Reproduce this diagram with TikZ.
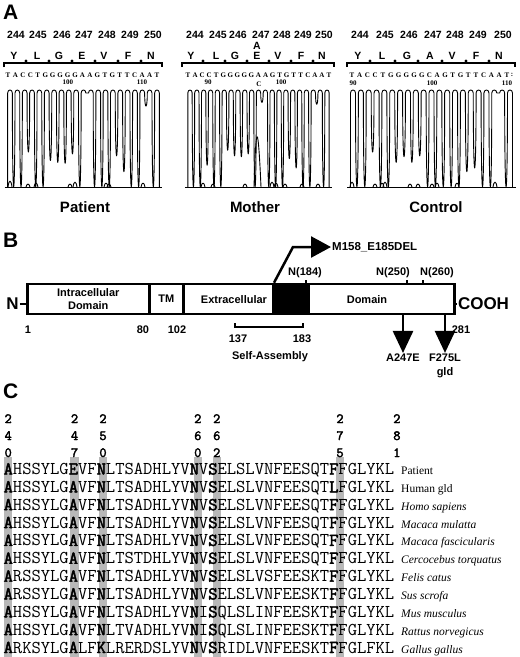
\documentclass[tikz,border=0pt]{standalone}
\usepackage{fontspec}
\setmainfont{Liberation Sans}
\setmonofont{Latin Modern Mono}[BoldFont=Latin Modern Mono,BoldFeatures={FakeBold=2.5}]
\newfontfamily\timesfont{Liberation Serif}
\usetikzlibrary{arrows.meta,positioning,calc}
\definecolor{hlgray}{RGB}{184,184,184}
\newcommand{\fs}[1]{\fontsize{#1}{#1}\selectfont}
\newcommand{\hl}[1]{\textbf{#1}}
% chromatogram: first peak x, peak spacing, valley depths (1 = down to baseline)
\newcommand{\trace}[3]{%
  \draw[trace] ({#1-0.32*#2},187) -- ({#1-0.32*#2},93)
    .. controls ({#1-0.32*#2},89) and ({#1+0.32*#2},89) .. ({#1+0.32*#2},93)
    foreach \dv [count=\i] in {#3} {
      .. controls ({#1+(\i-0.68)*#2},{93+\dv*125}) and ({#1+(\i-0.32)*#2},{93+\dv*125}) .. ({#1+(\i-0.32)*#2},93)
      .. controls ({#1+(\i-0.32)*#2},89) and ({#1+(\i+0.32)*#2},89) .. ({#1+(\i+0.32)*#2},93)
    } -- ++(0,94);
  \draw[trace] ({#1-0.32*#2-3},187) -- ({#1+20.32*#2+3},187);}

\begin{document}
\begin{tikzpicture}[x=1pt,y=-1pt,
  panel/.style={font=\fs{21}\bfseries,anchor=north west,inner sep=0pt},
  num/.style={font=\fs{10.5}\bfseries,inner sep=0pt},
  aa/.style={font=\fs{10.5}\bfseries,inner sep=0pt},
  base/.style={font=\timesfont\fs{7}\bfseries,inner sep=0pt},
  trace/.style={line width=0.9pt,line join=round},
  ruler/.style={line width=2.6pt},
  caption/.style={font=\fs{15}\bfseries},
  dom/.style={draw,line width=2.5pt,minimum height=30pt,anchor=west,inner sep=0pt,
    font=\fontsize{11}{13}\selectfont\bfseries,align=center},
  lbl/.style={font=\fs{11}\bfseries,inner sep=1pt},
  mut/.style={line width=2.5pt,-{Triangle[length=22pt,width=20pt]}},
  seq/.style={font=\ttfamily\fs{18.06},anchor=base west,inner sep=0pt},
  species/.style={font=\timesfont\fs{11.5},anchor=base west,inner sep=0pt},
  colnum/.style={font=\ttfamily\bfseries\fs{14},anchor=base,inner sep=0pt},
  hlbar/.style={fill=hlgray}]
\fill[white] (0,0) rectangle (520,657);
\useasboundingbox (0,0) rectangle (520,657);

% ---- A: sequencing traces
\node[panel] (la) at (3,5) {A};
% patient
\foreach \n/\x in {244/16,245/38,246/62,247/84,248/107,249/130,250/153}
  \node[num] (pn\n) at (\x,35) {\n};
\foreach \a/\x [count=\i] in {Y/14,L/37,G/59,E/82,V/104,F/128,N/151}
  \node[aa] (pa\i) at (\x,56) {\a};
\draw[ruler] (4,67) -- (4,63) -- (162,63) -- (162,67);
\foreach \x in {26,49,72,95,118,141} \fill (\x,61) circle (1.7);
\foreach \b [count=\i from 0] in {T,A,C,C,T,G,G,G,G,G,A,A,G,T,G,T,T,C,A,A,T}
  \node[base] (pb\i) at ({8+\i*7.45},75) {\b};
\node[base] (p100) at (68,82) {100};
\node[base] (p110) at (142,82) {110};
\trace{10}{7.35}{1,1,.63,1,1,.72,.74,.75,.65,1,0,1,1,1,.67,.84,1,1,.14,1}
\foreach \x/\h in {10/6,28/3,36/4,70/3,75/5,106/4,109/3,143/4}
  \draw[trace] (\x-2,187) .. controls (\x-1,{187-\h*1.3}) and (\x+1,{187-\h*1.3}) .. (\x+2,187);
\node[caption] (patient) at (85,207) {Patient};

% mother
\foreach \n/\x in {244/195,245/218,246/238,247/261,248/282,249/303,250/324}
  \node[num] (mn\n) at (\x,35) {\n};
\foreach \a/\x [count=\i] in {Y/191,L/216,G/235,E/257,V/278,F/301,N/322}
  \node[aa] (ma\i) at (\x,56) {\a};
\node[aa] (mhet) at (257,46) {A};
\draw[ruler] (182,67) -- (182,63) -- (334,63) -- (334,67);
\foreach \x in {203,225,247,269,291,313} \fill (\x,61) circle (1.7);
\foreach \b [count=\i from 0] in {T,A,C,C,T,G,G,G,G,G,A,A,G,T,G,T,T,C,A,A,T}
  \node[base] (mb\i) at ({188+\i*7.05},75) {\b};
\node[base] (m90) at (208,82) {90};
\node[base] (mc) at (259,84.5) {C};
\node[base] (m100) at (281,82) {100};
\trace{190}{6.85}{1,1,.77,1,1,.61,.67,.68,.65,1,.1,1,1,1,.7,.8,1,1,.12,1}
\draw[trace] (254,187) .. controls (256,120) and (258,120) .. (261,187);
\foreach \x/\h in {203/4,213/3,245/3,272/5,276/4,285/3,302/3,318/3}
  \draw[trace] (\x-2,187) .. controls (\x-1,{187-\h*1.3}) and (\x+1,{187-\h*1.3}) .. (\x+2,187);
\node[caption] (mother) at (255,207) {Mother};

% control
\foreach \n/\x in {244/360,245/385,246/409,247/433,248/455,249/478,250/503}
  \node[num] (cn\n) at (\x,35) {\n};
\foreach \a/\x [count=\i] in {Y/358,L/382,G/407,A/430,V/452,F/476,N/499}
  \node[aa] (ca\i) at (\x,56) {\a};
\draw[ruler] (347,67) -- (347,63) -- (515,63) -- (515,67);
\foreach \x in {370,395,418,442,466,489} \fill (\x,61) circle (1.7);
\foreach \b [count=\i from 0] in {T,A,C,C,T,G,G,G,G,G,C,A,G,T,G,T,T,C,A,A,T}
  \node[base] (cb\i) at ({352+\i*7.75},75) {\b};
\node[base] (ccol) at (512,75) {:};
\node[base] (c90) at (353,83) {90};
\node[base] (c100) at (432,83) {100};
\node[base] (c110) at (507,83) {110};
\trace{353}{7.85}{1,1,.63,1,1,.74,.68,.74,.67,1,1,1,1,1,.84,.8,1,1,0,1}
\foreach \x/\h in {352/5,375/3,382/4,385/5,410/3,418/3,432/3,437/4,457/4,495/5}
  \draw[trace] (\x-2,187) .. controls (\x-1,{187-\h*1.3}) and (\x+1,{187-\h*1.3}) .. (\x+2,187);
\node[caption] (control) at (436,207) {Control};

% ---- B: protein domains
\node[panel] (lb) at (3,233) {B};
\node[dom,minimum width=122pt] (intra) at (26,299) {Intracellular\\Domain};
\node[dom,minimum width=34pt] (tm) at (148,299) {TM};
\node[dom,minimum width=90pt] (extra) at (182,299) {};
\node[dom,minimum width=146pt] (dm) at (307,299) {};
\node[dom,minimum width=35pt,fill=black] (blk) at (272,299) {};
\node[lbl] (extxt) at (234,300) {Extracellular};
\node[lbl] (dmtxt) at (367,300) {Domain};
\node[font=\fs{17}\bfseries,inner sep=1pt] (nterm) at (12.5,304) {N};
\node[font=\fs{17}\bfseries,inner sep=1pt] (cterm) at (483.5,304) {COOH};
\draw[line width=1.5pt] (nterm.east) -- (nterm.east -| intra.west);
\draw[line width=1.5pt] (cterm.west -| dm.east) -- (cterm.west);
\node[lbl] (r1) at (28,330) {1};
\node[lbl] (r80) at (143,330) {80};
\node[lbl] (r102) at (177,330) {102};
\node[lbl] (r281) at (461,330) {281};
\node[lbl] (r137) at (238,339) {137};
\node[lbl] (r183) at (302,339) {183};
\node[lbl] (selfas) at (270,357) {Self-Assembly};
\draw[line width=2.2pt] (235,323) |- (303,327) -- (303,323);
\node[lbl,font=\fs{11.5}\bfseries,anchor=west] (mdel) at (331,247) {M158\_E185DEL};
\draw[line width=2.5pt,-{Triangle[length=20pt,width=21pt]}]
  (blk.north west) ++(2,0) -- (293,247) -- (mdel.west);
\node[lbl] (n184) at (305,273) {N(184)};
\node[lbl] (n250) at (393,273) {N(250)};
\node[lbl] (n260) at (437,273) {N(260)};
\foreach \x in {306,407,423} \draw[line width=2pt] (\x,283) -- (\x,279.5);
\node[lbl] (a247) at (403,358) {A247E};
\node[lbl] (f275) at (445,358) {F275L};
\node[lbl] (gld) at (445,373) {gld};
\draw[mut] (a247.north |- dm.south) -- (a247.north);
\draw[mut] (f275.north |- dm.south) -- (f275.north);

% ---- C: alignment
\node[panel] (lc) at (3,384) {C};
\foreach \k in {0,7,10,20,22,35}
  \fill[hlbar] ({3.96+\k*9.48},457) rectangle ++(8.5,200);
\foreach \k/\a/\b/\c in {0/2/4/0,7/2/4/7,10/2/5/0,20/2/6/0,22/2/6/2,35/2/7/5,41/2/8/1}{
  \node[colnum] (d\k-1) at ({8.2+\k*9.48},423) {\a};
  \node[colnum] (d\k-2) at ({8.2+\k*9.48},440) {\b};
  \node[colnum] (d\k-3) at ({8.2+\k*9.48},457) {\c};}
\foreach \s/\n [count=\r from 0] in {
  {\hl{A}HSSYLG\hl{E}VF\hl{N}LTSADHLYV\hl{N}V\hl{S}ELSLVNFEESQT\hl{F}FGLYKL}/{Patient},
  {\hl{A}HSSYLG\hl{A}VF\hl{N}LTSADHLYV\hl{N}V\hl{S}ELSLVNFEESQT\hl{L}FGLYKL}/{Human gld},
  {\hl{A}HSSYLG\hl{A}VF\hl{N}LTSADHLYV\hl{N}V\hl{S}ELSLVNFEESQT\hl{F}FGLYKL}/{\itshape Homo sapiens},
  {\hl{A}HSSYLG\hl{A}VF\hl{N}LTSADHLYV\hl{N}V\hl{S}ELSLVNFEESQT\hl{F}FGLYKL}/{\itshape Macaca mulatta},
  {\hl{A}HSSYLG\hl{A}VF\hl{N}LTSADHLYV\hl{N}V\hl{S}ELSLVNFEESQT\hl{F}FGLYKL}/{\itshape Macaca fascicularis},
  {\hl{A}HSSYLG\hl{A}VF\hl{N}LTSTDHLYV\hl{N}V\hl{S}ELSLVNFEESQT\hl{F}FGLYKL}/{\itshape Cercocebus torquatus},
  {\hl{A}RSSYLG\hl{A}VF\hl{N}LTSADHLYV\hl{N}V\hl{S}ELSLVSFEESKT\hl{F}FGLYKL}/{\itshape Felis catus},
  {\hl{A}RSSYLG\hl{A}VF\hl{N}LTSADHLYV\hl{N}V\hl{S}ELSLVNFEESKT\hl{F}FGLYKL}/{\itshape Sus scrofa},
  {\hl{A}HSSYLG\hl{A}VF\hl{N}LTSADHLYV\hl{N}I\hl{S}QLSLINFEESKT\hl{F}FGLYKL}/{\itshape Mus musculus},
  {\hl{A}HSSYLG\hl{A}VF\hl{N}LTVADHLYV\hl{N}I\hl{S}QLSLINFEESKT\hl{F}FGLYKL}/{\itshape Rattus norvegicus},
  {\hl{A}RKSYLG\hl{A}LF\hl{K}LRERDSLYV\hl{N}V\hl{S}RIDLVNFEESKT\hl{F}FGLFKL}/{\itshape Gallus gallus}}{
  \node[seq] (row\r) at (3.46,{474.5+\r*17.85}) {\s};
  \node[species] (sp\r) at (401,{474.5+\r*17.85}) {\n};}
\end{tikzpicture}
\end{document}
